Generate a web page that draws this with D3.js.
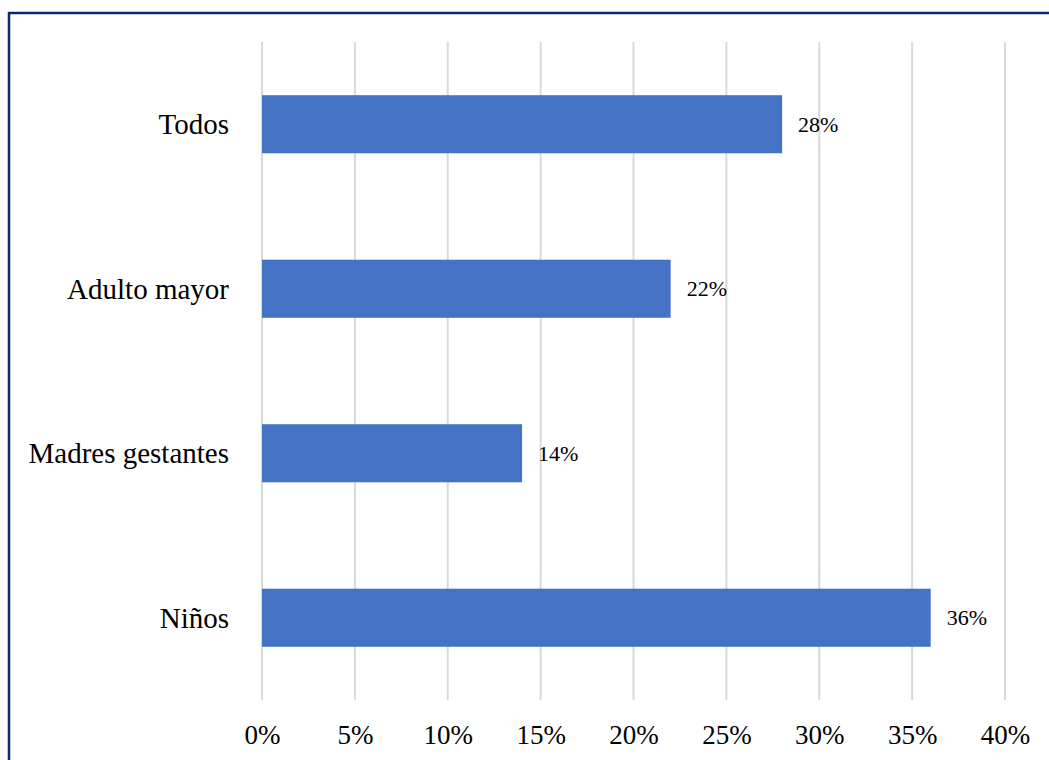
<!DOCTYPE html>
<html>
<head>
<meta charset="utf-8">
<script src="https://cdn.jsdelivr.net/npm/d3@7"></script>
<style>
  html, body { margin: 0; padding: 0; background: #fff; }
  svg { display: block; }
</style>
</head>
<body>
<svg id="chart" width="1049" height="760"></svg>
<script>
const categories = ["Todos", "Adulto mayor", "Madres gestantes", "Niños"];
const values = [0.28, 0.22, 0.14, 0.36];
const tickValues = [0, 0.05, 0.10, 0.15, 0.20, 0.25, 0.30, 0.35, 0.40];

const svg = d3.select("#chart");
const W = 1049, H = 760;

// frame border (left and top visible)
svg.append("path")
  .attr("d", `M9,${H} L9,13 L${W},13`)
  .attr("fill", "none")
  .attr("stroke", "#0b2a6b")
  .attr("stroke-width", 2.5);

const x = d3.scaleLinear().domain([0, 0.40]).range([262, 1005]);
const y = d3.scaleBand().domain(categories).range([42, 700]).paddingInner(0.647).paddingOuter(0.3235);

// gridlines
svg.append("g").selectAll("line").data(tickValues).join("line")
  .attr("x1", d => x(d)).attr("x2", d => x(d))
  .attr("y1", 42).attr("y2", 700)
  .attr("stroke", "#d9d9d9").attr("stroke-width", 2);

// bars
svg.append("g").selectAll("rect").data(categories).join("rect")
  .attr("x", x(0))
  .attr("y", d => y(d))
  .attr("width", (d, i) => x(values[i]) - x(0))
  .attr("height", y.bandwidth())
  .attr("fill", "#4472c4");

// data labels
svg.append("g").selectAll("text").data(categories).join("text")
  .attr("x", (d, i) => x(values[i]) + 16)
  .attr("y", d => y(d) + y.bandwidth() / 2)
  .attr("dy", "0.35em")
  .attr("font-family", "Liberation Serif, Times New Roman, serif")
  .attr("font-size", 22)
  .attr("fill", "#000")
  .text((d, i) => d3.format(".0%")(values[i]));

// category labels
svg.append("g").selectAll("text").data(categories).join("text")
  .attr("x", 229)
  .attr("y", d => y(d) + y.bandwidth() / 2)
  .attr("dy", "0.35em")
  .attr("text-anchor", "end")
  .attr("font-family", "Liberation Serif, Times New Roman, serif")
  .attr("font-size", 29)
  .attr("fill", "#000")
  .text(d => d);

// x axis tick labels
const xAxis = d3.axisBottom(x).tickValues(tickValues).tickFormat(d3.format(".0%")).tickSize(0).tickPadding(0);
const gx = svg.append("g").attr("transform", "translate(0,744)").call(xAxis);
gx.select(".domain").remove();
gx.selectAll("text")
  .attr("y", 0).attr("dy", 0)
  .attr("font-family", "Liberation Serif, Times New Roman, serif")
  .attr("font-size", 27)
  .attr("fill", "#000");
</script>
</body>
</html>
